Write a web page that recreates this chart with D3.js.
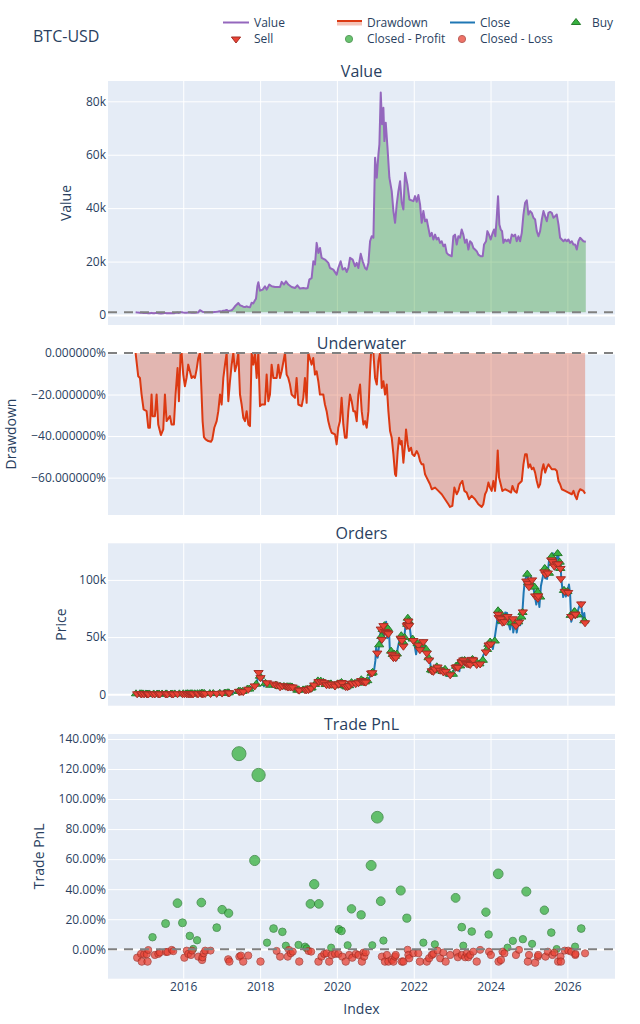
<!DOCTYPE html>
<html>
<head>
<meta charset="utf-8">
<script src="https://cdn.jsdelivr.net/npm/d3@7"></script>
<style>
  body { margin: 0; background: #fff; }
  text { font-family: "Open Sans", verdana, arial, sans-serif; }
</style>
</head>
<body>
<svg id="chart"></svg>
<script>
// ---- data (times are decimal years, money in thousands of USD) ----
var initValue = 1.0;

var valueSeries = [
  [2014.76,1.0],[2014.83,0.89],[2014.87,0.88],[2014.92,0.8],[2014.97,0.73],[2015.05,0.72],[2015.09,0.64],
  [2015.13,0.64],[2015.18,0.8],[2015.2,0.7],[2015.26,0.7],[2015.31,0.8],[2015.35,0.66],[2015.42,0.6],
  [2015.48,0.63],[2015.52,0.8],[2015.57,0.67],[2015.65,0.7],[2015.7,0.66],[2015.76,0.66],[2015.8,0.8],
  [2015.85,0.93],[2015.89,0.77],[2015.93,1.0],[2015.96,1.0],[2016.0,0.9],[2016.04,0.84],[2016.09,0.88],
  [2016.13,0.94],[2016.17,0.91],[2016.22,0.88],[2016.26,0.89],[2016.3,0.88],[2016.35,0.92],[2016.39,0.98],
  [2016.434,1.8],[2016.477,1.44],[2016.5,1.21],[2016.54,1.07],[2016.58,1.05],[2016.65,1.04],[2016.72,1.03],
  [2016.76,1.05],[2016.81,1.15],[2016.87,1.2],[2016.91,1.3],[2016.955,1.44],[2017.0,1.35],[2017.04,1.58],
  [2017.085,1.7],[2017.128,1.9],[2017.17,1.46],[2017.215,1.64],[2017.26,1.8],[2017.3,2.4],[2017.346,3.25],
  [2017.433,4.5],[2017.48,3.6],[2017.52,3.4],[2017.56,3.1],[2017.61,3.0],[2017.65,3.25],[2017.69,3.0],
  [2017.737,2.9],[2017.78,4.6],[2017.824,4.35],[2017.866,5.5],[2017.893,6.1],[2017.928,10.75],[2017.954,12.25],
  [2017.997,9.1],[2018.067,9.5],[2018.127,10.75],[2018.171,9.5],[2018.24,11.4],[2018.301,10.75],[2018.388,10.5],
  [2018.518,10.5],[2018.562,12.4],[2018.622,11.4],[2018.674,12.6],[2018.735,11.4],[2018.822,10.5],[2018.909,10.1],
  [2018.97,11.1],[2019.039,9.9],[2019.126,10.1],[2019.195,9.9],[2019.239,10.1],[2019.282,13.25],[2019.343,13.9],
  [2019.386,20.1],[2019.43,18.9],[2019.473,27.0],[2019.517,23.25],[2019.56,25.1],[2019.603,21.4],[2019.69,20.75],
  [2019.777,19.5],[2019.82,17.6],[2019.907,17.0],[2019.994,15.1],[2020.037,17.6],[2020.098,20.1],[2020.15,17.0],
  [2020.211,17.6],[2020.254,16.1],[2020.298,17.6],[2020.341,21.4],[2020.411,20.75],[2020.471,18.25],[2020.514,19.5],
  [2020.558,17.6],[2020.619,22.9],[2020.671,20.1],[2020.732,17.6],[2020.775,17.0],[2020.819,19.5],[2020.862,27.6],
  [2020.905,29.5],[2020.949,28.9],[2020.992,58.9],[2021.036,51.4],[2021.079,60.1],[2021.105,63.9],[2021.14,83.25],
  [2021.174,71.4],[2021.209,77.6],[2021.235,65.1],[2021.27,72.0],[2021.313,63.25],[2021.365,51.4],[2021.426,46.4],
  [2021.47,38.9],[2021.513,34.5],[2021.556,41.4],[2021.6,46.4],[2021.643,50.1],[2021.687,42.0],[2021.73,39.5],
  [2021.774,53.25],[2021.834,48.9],[2021.886,43.25],[2021.99,42.6],[2022.034,44.5],[2022.077,42.4],[2022.121,44.9],
  [2022.164,41.4],[2022.207,34.5],[2022.251,38.9],[2022.294,35.1],[2022.338,35.75],[2022.381,32.6],[2022.424,29.5],
  [2022.468,30.75],[2022.511,28.25],[2022.555,30.1],[2022.598,28.25],[2022.641,28.9],[2022.685,27.0],[2022.728,27.6],
  [2022.772,25.75],[2022.815,26.4],[2022.858,23.25],[2022.902,22.6],[2022.989,22.0],[2023.032,29.5],[2023.075,30.1],
  [2023.119,26.4],[2023.162,29.5],[2023.206,28.9],[2023.249,32.0],[2023.292,30.1],[2023.336,27.0],[2023.379,28.25],
  [2023.423,24.5],[2023.466,27.6],[2023.509,27.0],[2023.553,25.1],[2023.596,24.5],[2023.64,23.9],[2023.683,22.6],
  [2023.744,22.0],[2023.796,22.0],[2023.831,26.4],[2023.883,27.6],[2023.918,31.4],[2023.961,30.1],[2024.004,28.25],
  [2024.056,30.75],[2024.091,32.0],[2024.126,29.5],[2024.161,36.4],[2024.195,44.5],[2024.23,33.9],[2024.265,32.0],
  [2024.299,31.4],[2024.334,27.0],[2024.378,28.25],[2024.421,27.6],[2024.464,28.25],[2024.508,27.0],[2024.551,30.1],
  [2024.595,29.5],[2024.638,30.1],[2024.681,27.6],[2024.725,29.5],[2024.768,27.6],[2024.812,30.75],[2024.855,37.6],
  [2024.898,42.0],[2024.942,42.9],[2024.985,37.6],[2025.029,38.9],[2025.072,38.25],[2025.115,36.4],[2025.159,35.75],
  [2025.202,31.4],[2025.246,29.5],[2025.289,31.4],[2025.333,35.75],[2025.376,38.9],[2025.419,37.0],[2025.463,35.1],
  [2025.506,38.25],[2025.55,38.6],[2025.593,38.25],[2025.636,36.4],[2025.68,37.0],[2025.723,37.6],[2025.767,33.9],
  [2025.81,28.9],[2025.853,28.25],[2025.897,27.6],[2025.94,28.25],[2025.984,27.6],[2026.027,28.25],[2026.07,27.0],
  [2026.114,27.6],[2026.157,26.4],[2026.2,26.4],[2026.244,24.5],[2026.287,27.6],[2026.331,28.9],[2026.374,28.25],
  [2026.418,27.6],[2026.479,27.4]
];

var drawdownSeries = [
  [2014.759,0],[2014.828,-11.2],[2014.872,-12],[2014.915,-20],[2014.967,-27.2],[2015.045,-28],[2015.089,-36],
  [2015.132,-36],[2015.175,-20],[2015.201,-30.4],[2015.262,-30.4],[2015.306,-20],[2015.349,-34.4],[2015.418,-39.5],
  [2015.479,-36.8],[2015.523,-20],[2015.566,-32.8],[2015.653,-30.4],[2015.696,-34.4],[2015.757,-34.4],[2015.8,-20],
  [2015.852,-7.2],[2015.887,-23.2],[2015.931,0],[2015.957,0],[2016.0,-10.4],[2016.043,-16],[2016.087,-12],
  [2016.13,-5.6],[2016.174,-8.8],[2016.217,-12],[2016.26,-11.2],[2016.304,-12],[2016.347,-8],[2016.391,-2.4],
  [2016.434,0],[2016.477,-20],[2016.503,-32.8],[2016.538,-40.5],[2016.582,-41.6],[2016.651,-42.4],[2016.72,-42.7],
  [2016.755,-41.6],[2016.807,-36],[2016.868,-32.8],[2016.911,-28],[2016.955,-20],[2016.998,-24.8],[2017.042,-12],
  [2017.085,-5.6],[2017.128,0],[2017.172,-23.2],[2017.215,-13.6],[2017.259,-5.6],[2017.302,0],[2017.345,-8.8],
  [2017.389,-5.6],[2017.432,0],[2017.476,-20],[2017.519,-24.8],[2017.563,-31.2],[2017.606,-32.8],[2017.649,-28],
  [2017.693,-34.4],[2017.736,-35.2],[2017.78,0],[2017.823,-5.6],[2017.866,0],[2017.91,-12],[2017.953,0],
  [2017.997,-25.6],[2018.04,-24.8],[2018.127,-24.8],[2018.17,-10.4],[2018.214,-23.2],[2018.257,-20],[2018.3,-5.6],
  [2018.344,-12],[2018.431,-12],[2018.474,-5.6],[2018.517,-12],[2018.561,-8.8],[2018.648,0],[2018.691,-10.4],
  [2018.734,-12],[2018.778,-15.2],[2018.821,-20],[2018.908,-21.6],[2018.951,-12],[2018.995,-24.8],[2019.082,-25.6],
  [2019.125,-21.6],[2019.168,-12],[2019.212,-24],[2019.255,0],[2019.342,-5.6],[2019.385,-2.4],[2019.429,-10.4],
  [2019.472,-8.8],[2019.516,-13.6],[2019.559,-20],[2019.646,-20],[2019.689,-24.8],[2019.733,-28],[2019.776,-32.8],
  [2019.819,-36],[2019.863,-38.4],[2019.95,-39.2],[2019.993,-44],[2020.036,-36],[2020.08,-32.8],[2020.123,-21.6],
  [2020.167,-34.4],[2020.21,-40.8],[2020.253,-40.8],[2020.297,-28],[2020.34,-20],[2020.384,-23.2],[2020.427,-28],
  [2020.471,-28],[2020.515,-32.8],[2020.558,-20],[2020.602,-15.2],[2020.645,-28],[2020.689,-34.4],[2020.732,-32.8],
  [2020.775,-36],[2020.819,-28],[2020.862,-8.8],[2020.888,0],[2020.949,0],[2020.992,-12],[2021.036,-15.2],
  [2021.079,-4],[2021.122,0],[2021.166,-16.8],[2021.209,-13.6],[2021.253,-20],[2021.296,-15.2],[2021.339,-28],
  [2021.383,-37.6],[2021.426,-40.8],[2021.47,-48.8],[2021.513,-58.4],[2021.539,-59.2],[2021.582,-47.2],
  [2021.617,-40.8],[2021.66,-44],[2021.686,-42.4],[2021.73,-52.8],[2021.773,-44],[2021.799,-36.8],[2021.843,-44],
  [2021.877,-47.2],[2021.929,-45.6],[2021.964,-48.8],[2022.016,-49.6],[2022.077,-47.2],[2022.12,-48.8],
  [2022.164,-52],[2022.207,-53.6],[2022.251,-53.6],[2022.294,-58.4],[2022.337,-60],[2022.381,-61.6],
  [2022.424,-63.2],[2022.468,-65.6],[2022.555,-64.8],[2022.641,-66.4],[2022.728,-68],[2022.815,-70.4],
  [2022.902,-72.8],[2022.945,-74.1],[2023.006,-73.6],[2023.058,-64.8],[2023.119,-68],[2023.162,-66.4],
  [2023.206,-63.2],[2023.266,-61.6],[2023.318,-66.4],[2023.379,-67.2],[2023.44,-70.4],[2023.509,-68.8],
  [2023.596,-70.4],[2023.683,-72.8],[2023.77,-74.1],[2023.813,-72.8],[2023.857,-68],[2023.9,-66.4],
  [2023.944,-62.4],[2023.987,-64.8],[2024.03,-66.4],[2024.074,-61.6],[2024.117,-66.4],[2024.161,-56.8],
  [2024.187,-46.9],[2024.221,-60],[2024.265,-63.2],[2024.308,-66.4],[2024.378,-65.6],[2024.464,-66.4],
  [2024.534,-67.2],[2024.569,-64],[2024.621,-66.4],[2024.681,-67.2],[2024.725,-63.2],[2024.812,-61.6],
  [2024.855,-53.6],[2024.898,-48.8],[2024.942,-48.8],[2024.985,-55.2],[2025.029,-53.6],[2025.072,-56],
  [2025.116,-55.2],[2025.159,-57.6],[2025.202,-61.6],[2025.246,-64.8],[2025.289,-63.2],[2025.333,-56.8],
  [2025.376,-53.6],[2025.42,-57.6],[2025.463,-55.2],[2025.506,-53.6],[2025.593,-56],[2025.68,-56],
  [2025.724,-56.8],[2025.767,-61.6],[2025.81,-63.2],[2025.854,-65.6],[2025.941,-66.4],[2026.028,-67.2],
  [2026.115,-68],[2026.158,-66.4],[2026.201,-68.8],[2026.245,-70.4],[2026.288,-67.2],[2026.332,-65.6],
  [2026.418,-66.4],[2026.462,-67.7]
];

var closeSeries = [
  [2014.71,0.457],[2014.75,0.4],[2014.78,0.38],[2014.82,0.36],[2014.86,0.34],[2014.9,0.38],[2014.94,0.37],
  [2014.97,0.33],[2015.0,0.32],[2015.036,0.18],[2015.07,0.27],[2015.1,0.22],[2015.14,0.24],[2015.18,0.28],
  [2015.22,0.25],[2015.26,0.24],[2015.3,0.22],[2015.34,0.24],[2015.38,0.24],[2015.42,0.23],[2015.46,0.25],
  [2015.5,0.26],[2015.54,0.29],[2015.58,0.28],[2015.62,0.26],[2015.66,0.23],[2015.7,0.23],[2015.74,0.24],
  [2015.78,0.27],[2015.82,0.31],[2015.845,0.45],[2015.87,0.33],[2015.91,0.36],[2015.95,0.46],[2015.99,0.43],
  [2016.04,0.39],[2016.08,0.38],[2016.12,0.38],[2016.17,0.43],[2016.21,0.41],[2016.25,0.42],[2016.29,0.42],
  [2016.33,0.45],[2016.38,0.46],[2016.42,0.53],[2016.46,0.67],[2016.47,0.75],[2016.5,0.65],[2016.54,0.68],
  [2016.58,0.57],[2016.62,0.58],[2016.67,0.6],[2016.71,0.61],[2016.75,0.61],[2016.79,0.7],[2016.83,0.73],
  [2016.88,0.74],[2016.92,0.78],[2016.96,0.93],[2017.0,1.0],[2017.02,1.12],[2017.04,0.89],[2017.08,0.92],
  [2017.12,1.01],[2017.17,1.19],[2017.21,1.25],[2017.25,1.04],[2017.29,1.21],[2017.33,1.35],[2017.37,1.8],
  [2017.42,2.4],[2017.46,2.5],[2017.5,2.5],[2017.54,2.6],[2017.58,2.8],[2017.62,4.2],[2017.67,4.7],
  [2017.71,3.7],[2017.75,4.4],[2017.79,5.7],[2017.83,6.1],[2017.87,7.3],[2017.92,9.9],[2017.94,16.0],
  [2017.96,19.0],[2017.99,13.9],[2018.04,13.6],[2018.08,11.0],[2018.1,7.0],[2018.12,8.9],[2018.15,10.9],
  [2018.19,9.2],[2018.21,8.2],[2018.24,6.9],[2018.27,8.1],[2018.31,9.3],[2018.35,9.0],[2018.38,8.4],
  [2018.42,7.5],[2018.46,6.5],[2018.48,6.1],[2018.52,6.5],[2018.56,8.2],[2018.6,6.3],[2018.63,6.7],
  [2018.67,7.0],[2018.71,6.3],[2018.75,6.5],[2018.79,6.4],[2018.83,6.4],[2018.86,5.5],[2018.88,4.2],
  [2018.92,3.8],[2018.96,3.2],[2019.0,3.7],[2019.04,3.6],[2019.08,3.6],[2019.12,3.6],[2019.17,3.9],
  [2019.21,4.0],[2019.25,4.1],[2019.29,5.1],[2019.33,5.3],[2019.37,6.0],[2019.4,8.0],[2019.42,8.7],
  [2019.46,7.8],[2019.47,10.0],[2019.49,12.9],[2019.52,10.8],[2019.55,10.5],[2019.58,9.5],[2019.6,11.0],
  [2019.64,10.2],[2019.67,10.1],[2019.71,10.3],[2019.73,8.3],[2019.79,8.1],[2019.82,9.6],[2019.86,8.8],
  [2019.9,7.3],[2019.94,7.1],[2019.98,7.2],[2020.04,8.8],[2020.08,9.4],[2020.12,10.3],[2020.17,8.6],
  [2020.19,4.97],[2020.23,6.7],[2020.29,6.6],[2020.33,8.7],[2020.37,9.4],[2020.42,10.2],[2020.46,9.4],
  [2020.5,9.2],[2020.54,9.1],[2020.58,11.4],[2020.62,11.9],[2020.67,11.9],[2020.71,10.8],[2020.75,10.6],
  [2020.79,11.5],[2020.83,13.7],[2020.87,16.0],[2020.92,18.8],[2020.96,19.4],[2021.0,29.4],[2021.02,40.8],
  [2021.06,32.0],[2021.11,46.4],[2021.14,57.5],[2021.16,45.1],[2021.2,61.2],[2021.23,51.7],[2021.28,63.5],
  [2021.31,49.0],[2021.35,58.8],[2021.38,37.0],[2021.42,36.7],[2021.47,31.7],[2021.5,33.5],[2021.55,29.8],
  [2021.58,39.9],[2021.64,49.3],[2021.68,51.7],[2021.72,40.7],[2021.75,48.2],[2021.8,66.0],[2021.85,67.6],
  [2021.89,59.7],[2021.93,49.4],[2021.97,46.7],[2022.0,47.7],[2022.06,35.0],[2022.11,43.5],[2022.15,38.3],
  [2022.24,47.1],[2022.29,40.5],[2022.33,38.5],[2022.36,29.0],[2022.42,29.8],[2022.46,19.0],[2022.5,19.3],
  [2022.58,23.6],[2022.62,24.1],[2022.67,20.1],[2022.71,19.7],[2022.75,19.3],[2022.83,20.6],[2022.85,21.3],
  [2022.86,15.9],[2022.92,17.0],[2023.0,16.5],[2023.04,20.9],[2023.08,23.7],[2023.12,24.3],[2023.19,20.2],
  [2023.22,28.1],[2023.28,30.4],[2023.33,27.5],[2023.37,27.2],[2023.45,25.1],[2023.5,30.5],[2023.54,30.3],
  [2023.58,29.7],[2023.63,26.1],[2023.69,25.2],[2023.75,27.9],[2023.81,33.9],[2023.87,37.9],[2023.92,44.0],
  [2024.0,42.3],[2024.03,46.3],[2024.06,39.5],[2024.12,51.9],[2024.16,61.2],[2024.2,73.1],[2024.22,62.0],
  [2024.27,71.6],[2024.33,60.6],[2024.38,71.4],[2024.43,71.1],[2024.48,60.3],[2024.51,56.7],[2024.57,66.8],
  [2024.59,54.0],[2024.65,64.2],[2024.68,53.9],[2024.74,65.8],[2024.77,60.3],[2024.83,72.7],[2024.86,88.7],
  [2024.89,98.9],[2024.93,103.0],[2024.96,106.1],[2025.0,92.8],[2025.02,96.9],[2025.03,94.5],[2025.05,102.3],
  [2025.09,97.7],[2025.16,84.4],[2025.19,78.5],[2025.23,87.5],[2025.27,76.3],[2025.31,94.7],[2025.36,102.8],
  [2025.39,111.7],[2025.42,101.6],[2025.47,100.9],[2025.53,119.8],[2025.58,113.3],[2025.62,123.3],
  [2025.67,109.2],[2025.71,117.1],[2025.76,124.7],[2025.78,113.2],[2025.82,114.1],[2025.84,101.5],
  [2025.89,85.0],[2025.92,93.4],[2025.96,85.5],[2026.01,91.5],[2026.04,96.0],[2026.07,88.0],[2026.1,63.5],
  [2026.14,68.0],[2026.19,72.0],[2026.25,70.0],[2026.29,75.0],[2026.35,80.5],[2026.4,66.0],[2026.44,71.0],
  [2026.47,62.5]
];

var buyOrders = [
  [2014.77,0.41],[2014.87,0.39],[2014.905,0.4],[2014.95,0.33],[2015.02,0.28],[2015.055,0.23],[2015.08,0.23],
  [2015.12,0.25],[2015.23,0.26],[2015.32,0.24],[2015.37,0.245],[2015.45,0.25],[2015.545,0.295],[2015.57,0.285],
  [2015.68,0.23],[2015.72,0.245],[2015.78,0.31],[2015.9,0.365],[2016.0,0.455],[2016.07,0.385],[2016.11,0.39],
  [2016.12,0.395],[2016.18,0.435],[2016.21,0.42],[2016.24,0.42],[2016.3,0.425],[2016.37,0.48],[2016.43,0.55],
  [2016.475,0.75],[2016.49,0.69],[2016.51,0.69],[2016.55,0.665],[2016.69,0.615],[2016.78,0.65],[2016.95,0.83],
  [2017.15,1.27],[2017.07,0.97],[2017.185,1.25],[2017.1,1.09],[2017.44,2.62],[2017.48,2.6],[2017.54,2.5],
  [2017.67,4.6],[2017.72,4.6],[2017.9,8.8],[2017.995,15.8],[2018.14,9.6],[2018.26,7.9],[2018.41,8.1],
  [2018.5,6.8],[2018.53,6.7],[2018.62,6.8],[2018.7,6.6],[2018.73,6.5],[2018.78,6.6],[2018.83,6.4],
  [2018.97,3.6],[2019.005,3.9],[2019.12,3.8],[2019.18,4.0],[2019.24,4.15],[2019.22,4.0],[2019.315,5.4],
  [2019.34,5.65],[2019.505,11.7],[2019.43,8.6],[2019.58,11.5],[2019.65,10.4],[2019.71,8.5],[2019.785,9.0],
  [2019.83,8.9],[2019.845,9.1],[2019.93,7.4],[2020.02,9.1],[2019.99,7.9],[2020.07,9.2],[2020.12,10.3],
  [2020.215,7.3],[2020.25,6.5],[2020.3,7.8],[2020.32,7.5],[2020.38,10.2],[2020.47,9.6],[2020.54,10.4],
  [2020.55,9.7],[2020.635,12.7],[2020.67,11.45],[2020.695,11.3],[2020.73,10.8],[2020.79,11.9],[2020.9,18.3],
  [2020.93,19.2],[2021.1,43.2],[2021.155,50.5],[2021.19,56.7],[2021.235,60.0],[2021.28,56.0],[2021.325,57.5],
  [2021.41,37.7],[2021.455,34.8],[2021.49,35.2],[2021.51,33.2],[2021.56,35.2],[2021.675,51.2],[2021.715,45.7],
  [2021.76,49.7],[2021.83,61.2],[2021.845,66.5],[2021.865,63.8],[2021.97,48.3],[2022.1,44.2],[2022.145,42.4],
  [2022.2,44.0],[2022.325,39.2],[2022.385,31.9],[2022.45,21.3],[2022.49,20.6],[2022.52,21.3],[2022.6,24.0],
  [2022.675,22.3],[2022.75,19.9],[2022.815,21.8],[2022.93,17.7],[2023.02,17.5],[2023.1,24.5],[2023.135,24.8],
  [2023.21,24.8],[2023.235,29.1],[2023.26,29.3],[2023.325,29.6],[2023.36,27.7],[2023.405,28.0],[2023.45,27.0],
  [2023.47,27.3],[2023.53,30.5],[2023.625,28.3],[2023.71,26.6],[2023.8,29.7],[2023.91,39.2],[2023.945,43.7],
  [2023.99,45.7],[2024.11,46.6],[2024.195,73.0],[2024.255,71.0],[2024.29,64.0],[2024.34,65.2],[2024.4,67.3],
  [2024.54,62.5],[2024.64,62.4],[2024.72,63.3],[2024.8,67.5],[2024.83,71.5],[2024.955,105.0],[2024.98,97.6],
  [2025.05,96.5],[2025.145,93.7],[2025.21,88.1],[2025.225,89.3],[2025.29,85.0],[2025.41,110.0],[2025.47,107.7],
  [2025.52,105.8],[2025.59,120.4],[2025.64,114.5],[2025.69,114.0],[2025.745,123.0],[2025.8,115.5],
  [2025.815,110.0],[2025.91,90.8],[2026.0,89.8],[2026.085,69.0],[2026.15,68.8],[2026.18,72.1],[2026.19,72.2],
  [2026.27,69.4],[2026.44,64.2]
];

var sellOrders = [
  [2014.8,0.39],[2014.9,0.38],[2014.92,0.37],[2014.98,0.32],[2015.05,0.27],[2015.07,0.21],[2015.09,0.23],
  [2015.2,0.27],[2015.26,0.25],[2015.35,0.23],[2015.39,0.24],[2015.54,0.29],[2015.55,0.29],[2015.59,0.28],
  [2015.7,0.23],[2015.74,0.24],[2015.85,0.4],[2015.98,0.43],[2016.03,0.43],[2016.09,0.38],[2016.13,0.38],
  [2016.17,0.43],[2016.2,0.42],[2016.23,0.42],[2016.26,0.42],[2016.36,0.45],[2016.39,0.46],[2016.47,0.72],
  [2016.49,0.7],[2016.5,0.65],[2016.53,0.67],[2016.57,0.66],[2016.71,0.61],[2016.87,0.74],[2017.01,1.05],
  [2017.17,1.19],[2017.18,1.2],[2017.2,1.15],[2017.45,2.5],[2017.46,2.5],[2017.5,2.5],[2017.56,2.3],
  [2017.69,4.4],[2017.86,7.3],[2017.96,19.0],[2018.01,14.5],[2018.18,10.0],[2018.35,9.0],[2018.43,8.0],
  [2018.52,6.5],[2018.58,7.5],[2018.67,7.0],[2018.72,6.3],[2018.75,6.5],[2018.8,6.4],[2018.85,6.3],
  [2019.0,3.7],[2019.02,3.6],[2019.17,3.9],[2019.21,4.0],[2019.26,4.1],[2019.31,5.2],[2019.33,5.3],
  [2019.41,8.1],[2019.52,10.8],[2019.53,11.2],[2019.6,11.0],[2019.67,10.1],[2019.73,8.3],[2019.8,8.3],
  [2019.85,9.0],[2019.86,8.8],[2019.95,7.2],[2020.04,8.8],[2020.05,9.0],[2020.12,10.3],[2020.14,9.8],
  [2020.23,6.7],[2020.28,6.7],[2020.32,7.5],[2020.38,9.5],[2020.4,9.7],[2020.49,9.3],[2020.56,10.0],
  [2020.63,11.9],[2020.65,11.7],[2020.69,11.2],[2020.71,10.8],[2020.75,10.6],[2020.89,18.5],[2020.92,18.8],
  [2021.05,36.0],[2021.14,57.0],[2021.17,48.0],[2021.21,60.0],[2021.25,55.0],[2021.3,54.0],[2021.34,53.0],
  [2021.43,35.0],[2021.47,32.0],[2021.51,33.5],[2021.53,32.0],[2021.66,49.0],[2021.69,47.0],[2021.73,42.0],
  [2021.82,60.0],[2021.84,61.0],[2021.86,64.0],[2021.88,60.0],[2021.99,47.0],[2022.12,43.0],[2022.16,39.0],
  [2022.25,46.0],[2022.34,36.0],[2022.4,30.0],[2022.47,20.5],[2022.51,20.0],[2022.55,22.0],[2022.62,23.8],
  [2022.69,21.0],[2022.77,19.5],[2022.83,20.0],[2022.95,17.0],[2023.09,23.5],[2023.12,24.0],[2023.15,23.5],
  [2023.25,28.5],[2023.25,28.0],[2023.29,30.0],[2023.34,28.0],[2023.38,27.0],[2023.42,26.5],[2023.47,26.0],
  [2023.51,30.5],[2023.55,30.0],[2023.64,26.0],[2023.73,26.5],[2023.88,37.0],[2023.95,43.0],[2023.96,43.0],
  [2024.01,44.0],[2024.2,70.0],[2024.21,67.0],[2024.27,66.0],[2024.31,63.0],[2024.36,63.5],[2024.44,68.0],
  [2024.58,66.0],[2024.66,60.0],[2024.74,63.0],[2024.84,72.0],[2024.93,99.0],[2024.97,97.0],[2025.0,94.0],
  [2025.08,100.0],[2025.16,86.0],[2025.23,84.0],[2025.24,86.0],[2025.4,107.0],[2025.43,105.0],[2025.49,106.0],
  [2025.58,117.5],[2025.61,116.0],[2025.66,112.0],[2025.72,114.0],[2025.76,114.0],[2025.82,110.0],
  [2025.83,101.0],[2025.93,90.0],[2026.02,89.0],[2026.1,68.0],[2026.2,70.0],[2026.205,69.5],[2026.21,70.0],
  [2026.36,79.0],[2026.46,62.5]
];

// trade PnL in percent, plotted at the exit time
var profitTrades = [
  [2015.2,8.0],[2015.54,17.1],[2015.85,30.7],[2015.98,17.6],[2016.17,8.9],[2016.26,0.3],[2016.36,6.0],
  [2016.47,31.1],[2016.87,14.4],[2017.01,26.4],[2017.18,24.0],[2017.45,130.2],[2017.86,59.1],[2017.96,116.0],
  [2018.18,4.4],[2018.35,13.8],[2018.58,11.6],[2018.67,2.4],[2019.0,2.9],[2019.17,1.8],[2019.21,0.7],
  [2019.31,30.2],[2019.41,43.3],[2019.53,30.2],[2019.85,1.1],[2020.05,13.3],[2020.12,12.2],[2020.28,2.7],
  [2020.38,26.9],[2020.63,22.9],[2020.89,55.8],[2020.92,2.7],[2021.05,87.9],[2021.14,32.0],[2021.21,5.8],
  [2021.66,39.1],[2021.82,20.7],[2022.25,4.4],[2022.55,3.3],[2023.09,34.2],[2023.25,14.7],[2023.29,2.4],
  [2023.51,11.8],[2023.88,24.7],[2023.95,9.8],[2024.2,50.2],[2024.44,1.1],[2024.58,5.6],[2024.84,6.7],
  [2024.93,38.4],[2025.08,3.6],[2025.4,26.0],[2025.58,11.1],[2025.72,0.2],[2026.2,1.8],[2026.36,13.8]
];

var lossTrades = [
  [2014.8,-5.6],[2014.9,-3.1],[2014.92,-8.2],[2014.98,-3.3],[2015.05,-3.3],[2015.07,-8.2],[2015.09,-0.5],
  [2015.26,-3.8],[2015.35,-3.1],[2015.39,-2.2],[2015.55,-1.8],[2015.59,-1.8],[2015.7,-0.4],[2015.74,-1.3],
  [2016.03,-5.6],[2016.09,-0.9],[2016.13,-3.1],[2016.2,-3.8],[2016.23,-0.9],[2016.39,-4.9],[2016.49,-7.1],
  [2016.5,-5.3],[2016.53,-2.7],[2016.57,-0.9],[2016.71,-0.9],[2017.17,-6.7],[2017.2,-8.2],[2017.46,-4.9],
  [2017.5,-4.2],[2017.56,-8.2],[2017.69,-4.2],[2018.01,-8.2],[2018.43,-1.1],[2018.52,-4.9],[2018.72,-4.9],
  [2018.75,-0.4],[2018.8,-2.7],[2018.85,-1.6],[2019.02,-8.2],[2019.26,-1.1],[2019.33,-1.6],[2019.52,-8.2],
  [2019.6,-4.9],[2019.67,-3.1],[2019.73,-2.7],[2019.8,-8.2],[2019.86,-3.8],[2019.95,-3.1],[2020.04,-3.1],
  [2020.14,-4.9],[2020.23,-8.2],[2020.32,-3.8],[2020.4,-5.6],[2020.49,-3.1],[2020.56,-3.8],[2020.65,-8.2],
  [2020.69,-2.2],[2020.71,-4.9],[2020.75,-2.2],[2021.17,-4.9],[2021.25,-8.2],[2021.3,-3.8],[2021.34,-8.2],
  [2021.43,-7.1],[2021.47,-8.2],[2021.51,-4.9],[2021.53,-3.8],[2021.69,-8.2],[2021.73,-8.2],[2021.84,-0.3],
  [2021.86,-3.8],[2021.88,-6.0],[2021.99,-2.7],[2022.12,-2.7],[2022.16,-8.2],[2022.34,-8.2],[2022.4,-6.0],
  [2022.47,-3.8],[2022.51,-3.1],[2022.62,-0.9],[2022.69,-6.0],[2022.77,-2.2],[2022.83,-8.2],[2022.95,-3.8],
  [2023.12,-2.2],[2023.15,-5.3],[2023.25,-3.8],[2023.34,-5.3],[2023.38,-2.7],[2023.42,-5.3],[2023.47,-3.8],
  [2023.55,-1.6],[2023.64,-8.2],[2023.73,-0.4],[2023.96,-1.6],[2024.01,-3.8],[2024.21,-8.2],[2024.27,-7.1],
  [2024.31,-1.6],[2024.36,-2.7],[2024.66,-3.8],[2024.74,-0.4],[2024.97,-8.2],[2025.0,-3.8],[2025.16,-8.9],
  [2025.23,-4.9],[2025.24,-3.8],[2025.43,-4.9],[2025.49,-1.6],[2025.61,-3.8],[2025.66,-2.2],[2025.76,-8.2],
  [2025.82,-4.9],[2025.83,-8.2],[2025.93,-0.9],[2026.02,-0.9],[2026.1,-1.6],[2026.205,-3.8],[2026.21,-3.1],
  [2026.46,-2.7]
];

var yearTicks = [2016, 2018, 2020, 2022, 2024, 2026];
var valueTicks = [0, 20, 40, 60, 80];
var drawdownTicks = [0, -20, -40, -60];
var priceTicks = [0, 50, 100];
var pnlTicks = [0, 20, 40, 60, 80, 100, 120, 140];

// ---- layout ----
var width = 640, height = 1024;
var left = 108, right = 615;
var font = '"Open Sans", verdana, arial, sans-serif';
var ink = "#2a3f5f";
var green = "#37B13F", red = "#EA4335";

function yearDate(y) {
  var yi = Math.floor(y);
  var t0 = Date.UTC(yi, 0, 1), t1 = Date.UTC(yi + 1, 0, 1);
  return new Date(t0 + (y - yi) * (t1 - t0));
}

var x = d3.scaleUtc()
  .domain([yearDate(2014.04), yearDate(2027.24)])
  .range([left, right]);

var panels = [
  { id: "value", top: 81, bottom: 325, domain: [-3.744, 87.6], ticks: valueTicks,
    fmt: function(d) { return d === 0 ? "0" : d + "k"; }, title: "Value", axis: "Value", axisX: 66 },
  { id: "dd", top: 353, bottom: 515, domain: [-78, 0], ticks: drawdownTicks,
    fmt: function(d) { return (d < 0 ? "\u2212" : "") + Math.abs(d).toFixed(6) + "%"; },
    title: "Underwater", axis: "Drawdown", axisX: 11 },
  { id: "orders", top: 543.3, bottom: 705.7, domain: [-10, 132], ticks: priceTicks,
    fmt: function(d) { return d === 0 ? "0" : d + "k"; }, title: "Orders", axis: "Price", axisX: 61 },
  { id: "pnl", top: 734, bottom: 978.7, domain: [-19.6, 143.3], ticks: pnlTicks,
    fmt: function(d) { return d.toFixed(2) + "%"; }, title: "Trade PnL", axis: "Trade PnL", axisX: 39 }
];

var svg = d3.select("#chart")
  .attr("width", width)
  .attr("height", height)
  .style("font-family", font);

var defs = svg.append("defs");

panels.forEach(function(p) {
  p.y = d3.scaleLinear().domain(p.domain).range([p.bottom, p.top]);

  defs.append("clipPath").attr("id", "clip-" + p.id)
    .append("rect")
    .attr("x", left).attr("y", p.top)
    .attr("width", right - left).attr("height", p.bottom - p.top);

  svg.append("rect")
    .attr("x", left).attr("y", p.top)
    .attr("width", right - left).attr("height", p.bottom - p.top)
    .attr("fill", "#E5ECF6");

  // vertical grid
  svg.append("g")
    .attr("transform", "translate(0," + p.bottom + ")")
    .call(d3.axisBottom(x).tickValues(yearTicks.map(yearDate)).tickSize(-(p.bottom - p.top)).tickFormat(""))
    .call(function(g) { g.select(".domain").remove(); })
    .selectAll("line").attr("stroke", "#fff").attr("stroke-width", 1);

  // horizontal grid
  svg.append("g")
    .attr("transform", "translate(" + left + ",0)")
    .call(d3.axisLeft(p.y).tickValues(p.ticks).tickSize(-(right - left)).tickFormat(""))
    .call(function(g) { g.select(".domain").remove(); })
    .selectAll("line")
    .attr("stroke", "#fff")
    .attr("stroke-width", function(d) { return d === 0 ? 2 : 1; });

  // tick labels
  svg.append("g")
    .attr("transform", "translate(" + (left - 2) + ",0)")
    .call(d3.axisLeft(p.y).tickValues(p.ticks).tickSize(0).tickPadding(0).tickFormat(p.fmt))
    .call(function(g) { g.select(".domain").remove(); })
    .selectAll("text")
    .attr("fill", ink)
    .style("font-family", font)
    .style("font-size", "12px");

  svg.append("text")
    .attr("x", (left + right) / 2).attr("y", p.top - 4.5)
    .attr("text-anchor", "middle")
    .attr("fill", ink).style("font-size", "16px")
    .text(p.title);

  svg.append("text")
    .attr("transform", "translate(" + p.axisX + "," + (p.top + p.bottom) / 2 + ") rotate(-90)")
    .attr("text-anchor", "middle").attr("dy", "0.35em")
    .attr("fill", ink).style("font-size", "14px")
    .text(p.axis);

  p.layer = svg.append("g").attr("clip-path", "url(#clip-" + p.id + ")");
});

var pv = panels[0], pd = panels[1], po = panels[2], pp = panels[3];

// x tick labels under the last panel
svg.append("g")
  .attr("transform", "translate(0," + pp.bottom + ")")
  .call(d3.axisBottom(x).tickValues(yearTicks.map(yearDate)).tickSize(0).tickPadding(4)
    .tickFormat(d3.utcFormat("%Y")))
  .call(function(g) { g.select(".domain").remove(); })
  .selectAll("text")
  .attr("fill", ink).style("font-family", font).style("font-size", "12px");

svg.append("text")
  .attr("x", (left + right) / 2).attr("y", 1014)
  .attr("text-anchor", "middle").attr("fill", ink).style("font-size", "14px")
  .text("Index");

function dashed(p, v) {
  svg.append("line")
    .attr("x1", left).attr("x2", right)
    .attr("y1", p.y(v)).attr("y2", p.y(v))
    .attr("stroke", "gray").attr("stroke-width", 2).attr("stroke-dasharray", "9,7");
}

// ---- value panel ----
pv.layer.append("path")
  .datum(valueSeries)
  .attr("fill", "rgba(0,128,0,0.3)")
  .attr("d", d3.area()
    .x(function(d) { return x(yearDate(d[0])); })
    .y0(pv.y(initValue))
    .y1(function(d) { return pv.y(Math.max(d[1], initValue)); }));

pv.layer.append("path")
  .datum(valueSeries)
  .attr("fill", "rgba(255,0,0,0.3)")
  .attr("d", d3.area()
    .x(function(d) { return x(yearDate(d[0])); })
    .y0(pv.y(initValue))
    .y1(function(d) { return pv.y(Math.min(d[1], initValue)); }));

pv.layer.append("path")
  .datum(valueSeries)
  .attr("fill", "none").attr("stroke", "#9467bd").attr("stroke-width", 2)
  .attr("stroke-linejoin", "round")
  .attr("d", d3.line()
    .x(function(d) { return x(yearDate(d[0])); })
    .y(function(d) { return pv.y(d[1]); }));

dashed(pv, initValue);

// ---- underwater panel ----
pd.layer.append("path")
  .datum(drawdownSeries)
  .attr("fill", "rgba(220,57,18,0.3)")
  .attr("d", d3.area()
    .x(function(d) { return x(yearDate(d[0])); })
    .y0(pd.y(0))
    .y1(function(d) { return pd.y(d[1]); }));

pd.layer.append("path")
  .datum(drawdownSeries)
  .attr("fill", "none").attr("stroke", "rgb(220,57,18)").attr("stroke-width", 2)
  .attr("stroke-linejoin", "round")
  .attr("d", d3.line()
    .x(function(d) { return x(yearDate(d[0])); })
    .y(function(d) { return pd.y(d[1]); }));

dashed(pd, 0);

// ---- orders panel ----
function triangle(size, up) {
  var r = size / 2, rt = r * 2 / Math.sqrt(3), r2 = r / 2;
  return up
    ? "M" + (-rt) + "," + r2 + "H" + rt + "L0," + (-r) + "Z"
    : "M" + (-rt) + "," + (-r2) + "H" + rt + "L0," + r + "Z";
}

po.layer.append("path")
  .datum(closeSeries)
  .attr("fill", "none").attr("stroke", "#1f77b4").attr("stroke-width", 2)
  .attr("stroke-linejoin", "round")
  .attr("d", d3.line()
    .x(function(d) { return x(yearDate(d[0])); })
    .y(function(d) { return po.y(d[1]); }));

po.layer.selectAll(".buy")
  .data(buyOrders).enter().append("path")
  .attr("class", "buy")
  .attr("transform", function(d) { return "translate(" + x(yearDate(d[0])) + "," + po.y(d[1]) + ")"; })
  .attr("d", triangle(8, true))
  .attr("fill", green).attr("stroke", "#267c2c").attr("stroke-width", 1);

po.layer.selectAll(".sell")
  .data(sellOrders).enter().append("path")
  .attr("class", "sell")
  .attr("transform", function(d) { return "translate(" + x(yearDate(d[0])) + "," + po.y(d[1]) + ")"; })
  .attr("d", triangle(8, false))
  .attr("fill", red).attr("stroke", "#a42e25").attr("stroke-width", 1);

// ---- trade pnl panel ----
var maxPnl = d3.max(profitTrades.concat(lossTrades), function(d) { return Math.abs(d[1]); });
var size = d3.scaleLinear().domain([0, maxPnl]).range([7, 14]);

pp.layer.selectAll(".profit")
  .data(profitTrades).enter().append("circle")
  .attr("class", "profit")
  .attr("cx", function(d) { return x(yearDate(d[0])); })
  .attr("cy", function(d) { return pp.y(d[1]); })
  .attr("r", function(d) { return size(Math.abs(d[1])) / 2; })
  .attr("fill", green).attr("stroke", "#267c2c").attr("stroke-width", 1)
  .attr("opacity", 0.75);

pp.layer.selectAll(".loss")
  .data(lossTrades).enter().append("circle")
  .attr("class", "loss")
  .attr("cx", function(d) { return x(yearDate(d[0])); })
  .attr("cy", function(d) { return pp.y(d[1]); })
  .attr("r", function(d) { return size(Math.abs(d[1])) / 2; })
  .attr("fill", red).attr("stroke", "#a42e25").attr("stroke-width", 1)
  .attr("opacity", 0.75);

dashed(pp, 0);

// ---- title and legend ----
svg.append("text")
  .attr("x", 33).attr("y", 42)
  .attr("fill", ink).style("font-size", "16px")
  .text("BTC-USD");

var legend = svg.append("g").style("font-size", "12px");

function legendText(tx, ty, label) {
  legend.append("text").attr("x", tx).attr("y", ty + 4.3).attr("fill", ink).text(label);
}

// row 1
legend.append("line").attr("x1", 223).attr("x2", 249).attr("y1", 22.5).attr("y2", 22.5)
  .attr("stroke", "#9467bd").attr("stroke-width", 2);
legendText(254, 22.5, "Value");
legend.append("rect").attr("x", 337).attr("y", 21).attr("width", 25).attr("height", 4.5)
  .attr("fill", "rgba(220,57,18,0.3)");
legend.append("line").attr("x1", 337).attr("x2", 362).attr("y1", 21).attr("y2", 21)
  .attr("stroke", "rgb(220,57,18)").attr("stroke-width", 2);
legendText(367, 22.5, "Drawdown");
legend.append("line").attr("x1", 450).attr("x2", 475).attr("y1", 22.5).attr("y2", 22.5)
  .attr("stroke", "#1f77b4").attr("stroke-width", 2);
legendText(480, 22.5, "Close");
legend.append("path").attr("transform", "translate(576,22.5)").attr("d", triangle(8, true))
  .attr("fill", green).attr("stroke", "#267c2c").attr("stroke-width", 1);
legendText(592, 22.5, "Buy");

// row 2
legend.append("path").attr("transform", "translate(236,39)").attr("d", triangle(8, false))
  .attr("fill", red).attr("stroke", "#a42e25").attr("stroke-width", 1);
legendText(254, 39, "Sell");
legend.append("circle").attr("cx", 349).attr("cy", 39).attr("r", 3.6)
  .attr("fill", green).attr("stroke", "#267c2c").attr("opacity", 0.75);
legendText(367, 39, "Closed - Profit");
legend.append("circle").attr("cx", 462).attr("cy", 39).attr("r", 3.6)
  .attr("fill", red).attr("stroke", "#a42e25").attr("opacity", 0.75);
legendText(480, 39, "Closed - Loss");
</script>
</body>
</html>
